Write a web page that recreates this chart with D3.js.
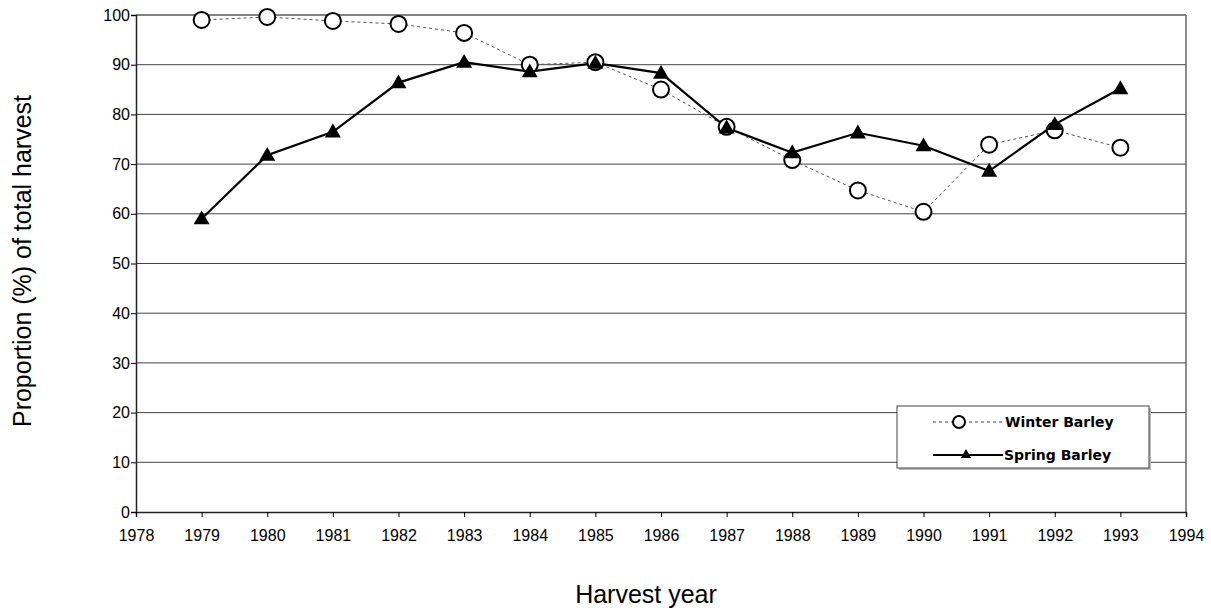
<!DOCTYPE html>
<html>
<head>
<meta charset="utf-8">
<script src="https://cdn.jsdelivr.net/npm/d3@7"></script>
<style>
  body { margin: 0; background: #fff; }
  svg { display: block; }
</style>
</head>
<body>
<script>
(function(){

  //chart values
  var years = [1979, 1980, 1981, 1982, 1983, 1984, 1985, 1986, 1987, 1988, 1989, 1990, 1991, 1992, 1993];
  var winterBarley = [99.0, 99.6, 98.8, 98.2, 96.4, 90.0, 90.5, 85.0, 77.5, 70.8, 64.7, 60.4, 73.9, 76.8, 73.3];
  var springBarley = [59.0, 71.8, 76.5, 86.4, 90.5, 88.6, 90.3, 88.3, 77.3, 72.3, 76.3, 73.7, 68.6, 78.0, 85.2];
  var xTicks = d3.range(1978, 1995);
  var yTicks = [0, 10, 20, 30, 40, 50, 60, 70, 80, 90, 100];

  var width = 1211, height = 610;
  var left = 136, right = 1186, top = 15, bottom = 512;
  var axisFont = "Liberation Sans, Arial, sans-serif";

  var svg = d3.select("body").append("svg")
    .attr("width", width)
    .attr("height", height);

  var x = d3.scaleLinear().domain([1978, 1994]).range([left, right]);
  var y = d3.scaleLinear().domain([0, 100]).range([bottom, top]);

  //horizontal grid lines
  svg.selectAll(".grid")
    .data(yTicks.slice(1))
    .enter()
    .append("line")
    .attr("x1", left).attr("x2", right)
    .attr("y1", function(d){ return y(d); })
    .attr("y2", function(d){ return y(d); })
    .attr("stroke", "#444")
    .attr("stroke-width", 1);

  //plot frame, right and top
  svg.append("line")
    .attr("x1", right).attr("x2", right)
    .attr("y1", top).attr("y2", bottom)
    .attr("stroke", "#666").attr("stroke-width", 1.5);
  svg.append("line")
    .attr("x1", left).attr("x2", right)
    .attr("y1", top).attr("y2", top)
    .attr("stroke", "#777").attr("stroke-width", 1.5);

  //axes
  var yAxis = d3.axisLeft(y).tickValues(yTicks).tickSize(5).tickPadding(1).tickFormat(d3.format("d"));
  svg.append("g")
    .attr("transform", "translate(" + left + ",0)")
    .call(yAxis)
    .call(function(g){
      g.select(".domain").attr("stroke", "#222").attr("stroke-width", 1.5);
      g.selectAll("text").style("font-family", axisFont).style("font-size", "16px").attr("fill", "#000");
    });

  var xAxis = d3.axisBottom(x).tickValues(xTicks).tickSize(5).tickPadding(13).tickFormat(d3.format("d"));
  svg.append("g")
    .attr("transform", "translate(0," + bottom + ")")
    .call(xAxis)
    .call(function(g){
      g.select(".domain").attr("stroke", "#222").attr("stroke-width", 1.5);
      g.selectAll("text").style("font-family", axisFont).style("font-size", "16px").attr("fill", "#000");
    });

  //axis titles
  svg.append("text")
    .attr("transform", "translate(31,261) rotate(-90)")
    .attr("text-anchor", "middle")
    .style("font-family", axisFont)
    .style("font-size", "25px")
    .text("Proportion (%) of total harvest");

  svg.append("text")
    .attr("x", 646)
    .attr("y", 603)
    .attr("text-anchor", "middle")
    .style("font-family", axisFont)
    .style("font-size", "25px")
    .text("Harvest year");

  var winterData = years.map(function(d, i){ return [d, winterBarley[i]]; });
  var springData = years.map(function(d, i){ return [d, springBarley[i]]; });

  var line = d3.line()
    .x(function(d){ return x(d[0]); })
    .y(function(d){ return y(d[1]); });

  //winter barley: dashed thin line, open circles
  svg.append("path")
    .datum(winterData)
    .attr("d", line)
    .attr("fill", "none")
    .attr("stroke", "#555")
    .attr("stroke-width", 1)
    .attr("stroke-dasharray", "3,3");

  //spring barley: solid line, filled triangles
  svg.append("path")
    .datum(springData)
    .attr("d", line)
    .attr("fill", "none")
    .attr("stroke", "#000")
    .attr("stroke-width", 2.2);

  svg.selectAll(".winter")
    .data(winterData)
    .enter()
    .append("circle")
    .attr("class", "winter")
    .attr("cx", function(d){ return x(d[0]); })
    .attr("cy", function(d){ return y(d[1]); })
    .attr("r", 8)
    .attr("fill", "#fff")
    .attr("stroke", "#000")
    .attr("stroke-width", 2);

  var tri = d3.symbol().type(d3.symbolTriangle).size(110);
  svg.selectAll(".spring")
    .data(springData)
    .enter()
    .append("path")
    .attr("class", "spring")
    .attr("d", tri)
    .attr("transform", function(d){ return "translate(" + x(d[0]) + "," + (y(d[1]) + 1) + ")"; })
    .attr("fill", "#000");

  //legend
  var lx = 897, ly = 406, lw = 252, lh = 62;
  svg.append("rect")
    .attr("x", lx + 2).attr("y", ly + 2).attr("width", lw).attr("height", lh)
    .attr("fill", "#bbb");
  svg.append("rect")
    .attr("x", lx).attr("y", ly).attr("width", lw).attr("height", lh)
    .attr("fill", "#fff").attr("stroke", "#444").attr("stroke-width", 1);

  var legendFont = "DejaVu Sans, sans-serif";
  var row1 = ly + 16, row2 = ly + 49;
  svg.append("line")
    .attr("x1", lx + 36).attr("x2", lx + 105)
    .attr("y1", row1).attr("y2", row1)
    .attr("stroke", "#444").attr("stroke-width", 1).attr("stroke-dasharray", "3,3");
  svg.append("circle")
    .attr("cx", lx + 62).attr("cy", row1).attr("r", 6)
    .attr("fill", "#fff").attr("stroke", "#000").attr("stroke-width", 2);
  svg.append("text")
    .attr("x", lx + 108).attr("y", row1 + 5)
    .style("font-family", legendFont).style("font-size", "14px").style("font-weight", "bold")
    .text("Winter Barley");

  svg.append("line")
    .attr("x1", lx + 36).attr("x2", lx + 106)
    .attr("y1", row2).attr("y2", row2)
    .attr("stroke", "#000").attr("stroke-width", 2);
  svg.append("path")
    .attr("d", d3.symbol().type(d3.symbolTriangle).size(45))
    .attr("transform", "translate(" + (lx + 69) + "," + row2 + ")")
    .attr("fill", "#000");
  svg.append("text")
    .attr("x", lx + 107).attr("y", row2 + 5)
    .style("font-family", legendFont).style("font-size", "14px").style("font-weight", "bold")
    .text("Spring Barley");

})();
</script>
</body>
</html>
